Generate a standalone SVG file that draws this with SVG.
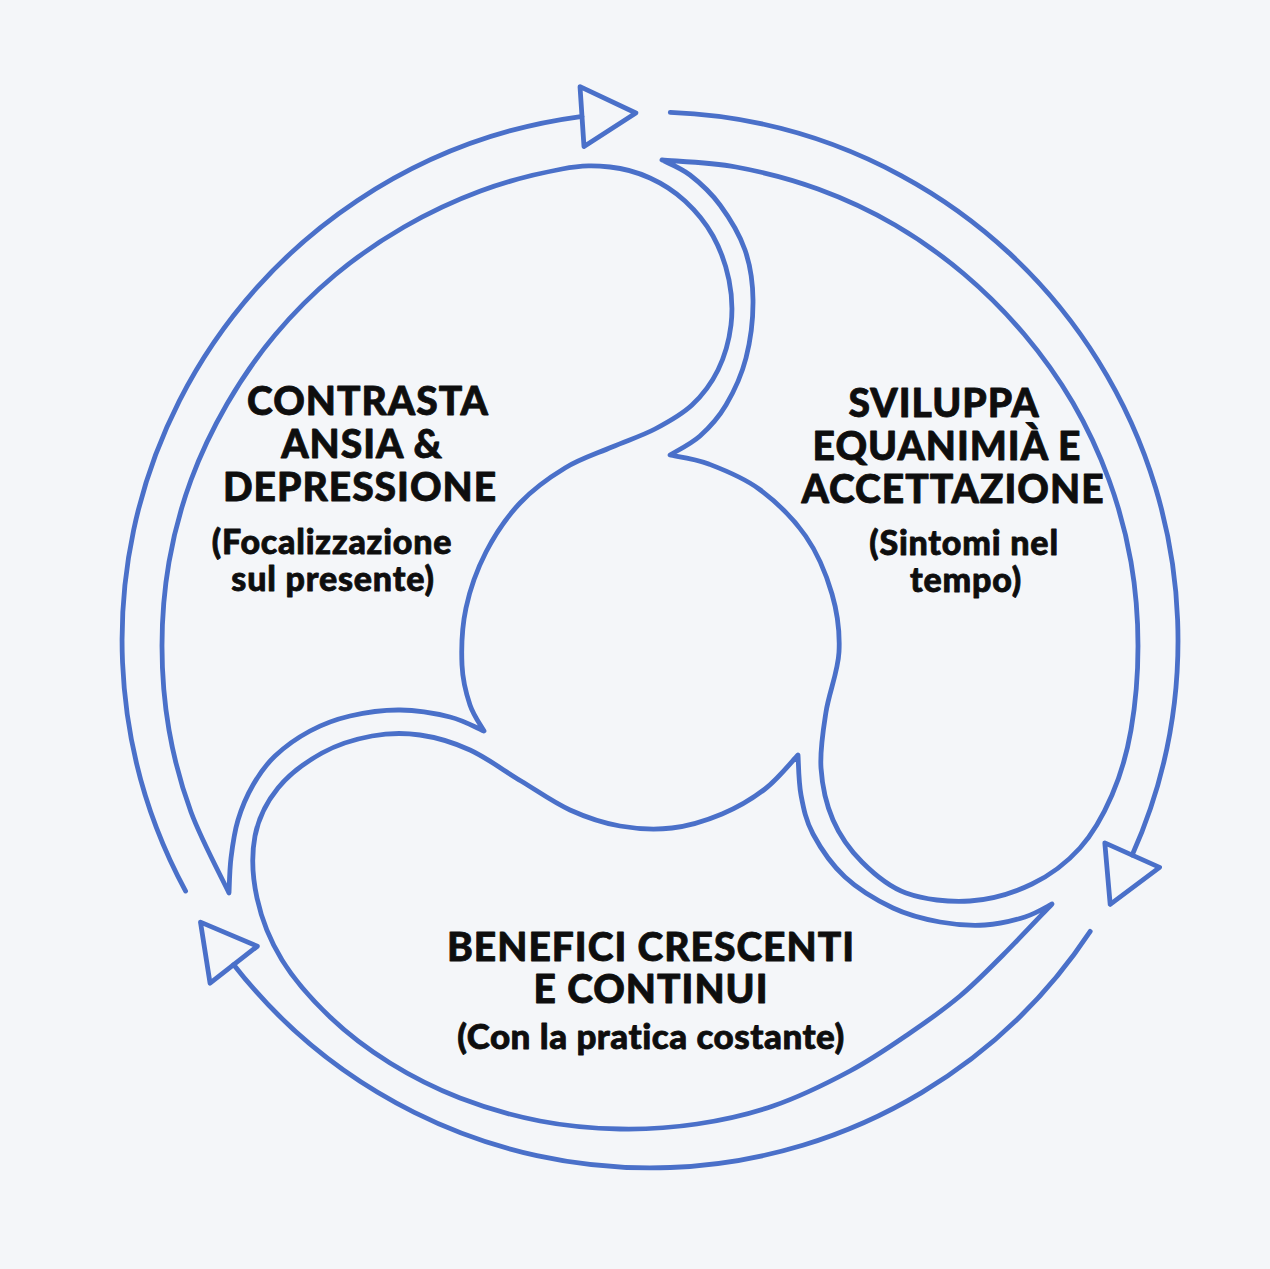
<svg xmlns="http://www.w3.org/2000/svg" width="1270" height="1269" viewBox="0 0 1270 1269">
<defs>
<style>
.ln{fill:none;stroke:#4a70c9;stroke-width:4.8;stroke-linecap:round;stroke-linejoin:round}
.t{font-family:Lato,"Liberation Sans",sans-serif;font-weight:900;fill:#0e0e0e;stroke:#0e0e0e;stroke-width:0.8px;stroke-linejoin:round;text-anchor:middle}
.h{font-size:39px;letter-spacing:1px}
.s{font-size:35px;letter-spacing:0.5px}
.s2{font-size:34px;letter-spacing:0.8px}
</style>
<marker id="ah" markerUnits="userSpaceOnUse" markerWidth="70" markerHeight="70" refX="0" refY="30" orient="auto" overflow="visible">
<path d="M0,0 L54,30 L0,60 Z" class="ln"/>
</marker>
</defs>
<rect width="1270" height="1269" fill="#f4f6f9"/>
<g id="connectors">
<path class="ln" marker-end="url(#ah)" d="M185.6,891.1 A528,528 0 0 1 579,116.8 L582,116.6"/>
<path class="ln" marker-end="url(#ah)" d="M670.3,112.4 A528,528 0 0 1 1132.2,855.1"/>
<path class="ln" marker-end="url(#ah)" d="M1090.2,931.4 A528,528 0 0 1 233.7,964.7"/>
</g>
<g id="node-contrasta">
<path class="ln" d="M229,893 C222.7,879.5 201,839.2 191,812 S173.8,757.7 169,730 S162,674 162,646 S164.2,589.7 169,562 S181.3,506.3 191,480 S213,428.2 227,404 S257,356.5 275,335 S313.5,293 335,275 S379.7,241 404,227 S454.2,200.7 480.5,191 S540.4,173 562,169 S595.3,165.5 610,167 S637.5,172.3 650,178 S674.5,191.3 685,201 S705.7,222.8 713,236 S726,265.2 729,280 S732.8,310 731,325 S724.5,356.7 718,370 S702.5,395.2 692,405 S668.3,422 655,429 S627,440.5 612,447 S580.3,458.7 565,468 S533.2,489 520,503 S495,534.5 486,552 S470,589.2 466,608 S461.3,648.8 462,665 S466.3,694 470,705 S481.7,726.7 484,731 C478.3,728.7 464,720.5 450,717 S416.7,710.2 400,710 S365,712.5 350,716 S322.5,724.3 310,731 S284.5,747 275,756 S259.2,774.3 253,785 S241.7,807.8 238,820 S232.5,845.8 231,858 S229.3,887.2 229,893 Z"/>
<text class="t"><tspan class="h" x="368" y="415">CONTRASTA</tspan><tspan class="h" x="362" y="458">ANSIA &amp;</tspan><tspan class="h" x="360" y="501">DEPRESSIONE</tspan><tspan class="s2" x="332" y="554">(Focalizzazione</tspan><tspan class="s2" x="333" y="591">sul presente)</tspan></text>
</g>
<g id="node-sviluppa">
<path class="ln" d="M662,160 C674.3,161.2 710,162.2 736,167 S791.5,179.3 818,189 S870.7,210.8 895,225 S942.5,255.8 964,274 S1005.8,312.5 1024,334 S1058.8,378.7 1073,403 S1099.3,453.5 1109,480 S1126.2,534.3 1131,562 S1138,618 1138,646 S1135.3,705.2 1131,730 S1120.5,775.3 1112,795 S1093.3,833.2 1080,848 S1050.3,875.2 1032,884 S991,899.5 970,901 S924,899.5 906,893 S874.2,874.2 862,862 S839.8,835.7 833,820 S822.2,786 821,768 S823,731.3 826,712 S838,671.7 839,652 S837.6,613.3 832,594 S817.8,553.5 805.6,536 S775.2,501 759,489 S723.5,469.7 708.7,464 S676.5,456.5 670,455 C675,451.8 690.7,444.3 700,436 S718.3,418 726,405 S741.5,375.5 746,358 S753.2,318 753,300 S750.5,265.8 745,250 S729.2,217.5 720,205 S699.7,182.5 690,175 S666.7,162.5 662,160 Z"/>
<text class="t"><tspan class="h" x="944" y="417">SVILUPPA</tspan><tspan class="h" x="947" y="460">EQUANIMIÀ E</tspan><tspan class="h" x="953" y="503">ACCETTAZIONE</tspan><tspan class="s2" x="964" y="555">(Sintomi nel</tspan><tspan class="s2" x="966" y="592">tempo)</tspan></text>
</g>
<g id="node-benefici">
<path class="ln" d="M798,755 C798.5,761.7 798.5,781.8 801,795 S805.7,820.3 813,834 S831.7,864.7 845,877 S877.2,900.5 893,908 S924.7,919.2 940,922 S970.8,925.8 985,925 S1013.8,920.5 1025,917 S1047.5,906.2 1052,904 C1043.8,912.5 1018.3,939.7 1003,955 S975.5,983 960,996 S928.3,1020.5 910,1033 S872.8,1058.8 850,1071 S798.5,1097.2 773,1106 S722.5,1120.2 697,1124 S646.2,1129.5 620,1129 S566.7,1126.2 540,1121 S485,1107.7 460,1098 S411.7,1076.5 390,1063 S348,1034.2 330,1017 S294.2,979.8 282,960 S261.5,918.7 257,898 S251.5,854.3 255,836 S266.8,801.8 278,788 S306.3,761.7 322,753 S355.7,739 372,736 S403.7,732.7 420,735 S453.2,742.3 470,750 S504.3,771 521,781 S553.5,802.5 570,810 S603,823 620,826 S655,830 672,828 S706.5,820.5 722,814 S752.3,798.8 765,789 S792.5,760.7 798,755 Z"/>
<text class="t"><tspan class="h" x="651" y="961">BENEFICI CRESCENTI</tspan><tspan class="h" x="651" y="1003">E CONTINUI</tspan><tspan class="s" x="651" y="1049">(Con la pratica costante)</tspan></text>
</g>
</svg>
